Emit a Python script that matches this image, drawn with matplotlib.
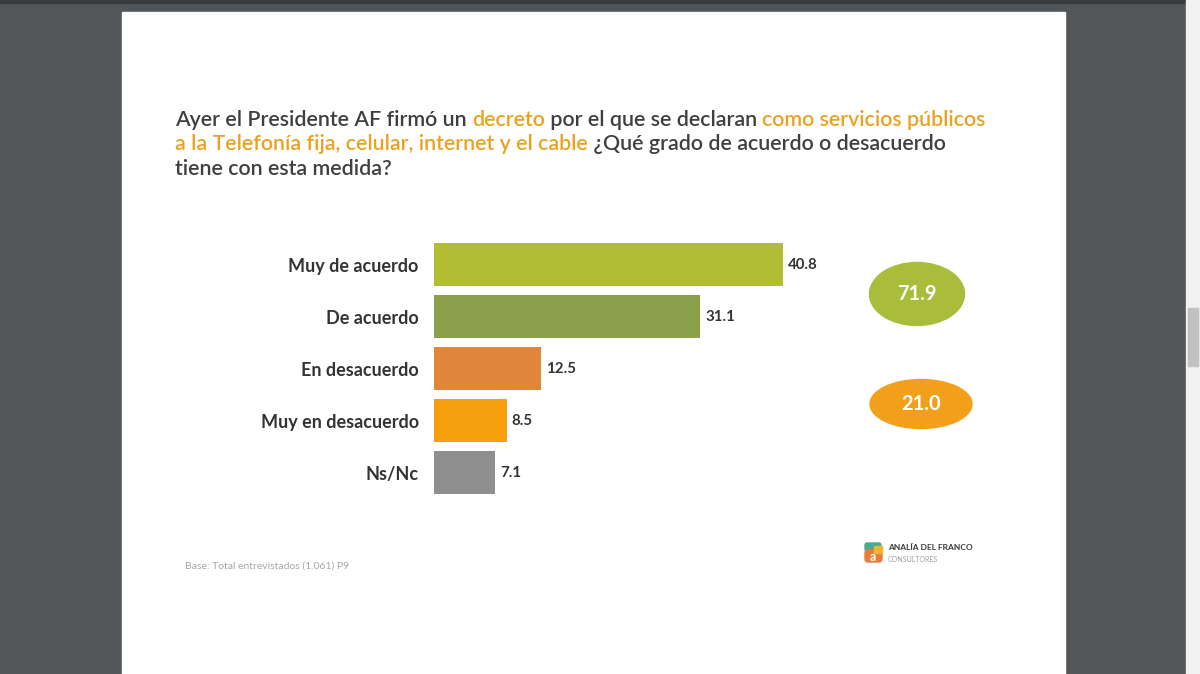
import matplotlib
matplotlib.use("Agg")
import matplotlib.pyplot as plt
from matplotlib.patches import Rectangle, Ellipse, FancyBboxPatch

plt.rcParams['font.family'] = ['Lato', 'DejaVu Sans']

categories = ["Muy de acuerdo", "De acuerdo", "En desacuerdo", "Muy en desacuerdo", "Ns/Nc"]
values = [40.8, 31.1, 12.5, 8.5, 7.1]
bar_colors = ["#b1bd33", "#8aa04b", "#e0863a", "#f5a00c", "#8f8f8f"]
totals = [71.9, 21.0]
total_colors = ["#a9bd3b", "#f2a01a"]

title_lines = [
    [("Ayer el Presidente AF firmó un ", "g"), ("decreto", "o"),
     (" por el que se declaran ", "g"), ("como servicios públicos", "o")],
    [("a la Telefonía fija, celular, internet y el cable", "o"),
     (" ¿Qué grado de acuerdo o desacuerdo", "g")],
    [("tiene con esta medida?", "g")],
]
base_note = "Base: Total entrevistados (1.061) P9"

W, H = 1200, 674
fig = plt.figure(figsize=(W / 100, H / 100), dpi=100)
fig.patch.set_facecolor("#525659")

# overlay axes in pixel coordinates
ov = fig.add_axes([0, 0, 1, 1])
ov.set_xlim(0, W)
ov.set_ylim(H, 0)
ov.axis("off")
ov.add_patch(Rectangle((0, 0), W, 3, color="#3a3d40", zorder=0))
ov.add_patch(Rectangle((122, 12), 943, 700, color="white", zorder=0))
ov.add_patch(Rectangle((1186, 0), 14, H, color="#f1f1f1", zorder=0))
ov.add_patch(Rectangle((1188, 308), 10, 58, color="#c1c1c1", zorder=1))

# title with coloured segments
text_colors = {"g": "#3f3f3f", "o": "#eba21f"}
renderer = fig.canvas.get_renderer()
y = 126
for line in title_lines:
    x = 175
    for seg, c in line:
        t = ov.text(x, y, seg, fontsize=15.4, color=text_colors[c],
                    fontweight="semibold", va="baseline", ha="left")
        bb = t.get_window_extent(renderer=renderer)
        x += bb.width
    y += 24.5

# bar chart
left_px, top_px = 434, 239
scale = 8.55
ax = fig.add_axes([left_px / W, 1 - 498.5 / H, 50 * scale / W, (498.5 - top_px) / H])
ax.barh(range(len(values)), values, height=0.83, color=bar_colors)
ax.set_xlim(0, 50)
ax.set_ylim(len(values) - 0.5, -0.5)
ax.set_yticks(range(len(values)))
ax.set_yticklabels(categories, fontsize=13, fontweight="bold", color="#333333")
ax.tick_params(axis="y", length=0, pad=11)
ax.set_xticks([])
for s in ax.spines.values():
    s.set_visible(False)
ax.patch.set_alpha(0)
for i, v in enumerate(values):
    ax.text(v + 0.6, i, f"{v:.1f}", va="center", ha="left",
            fontsize=10.8, fontweight="bold", color="#333333")

# summary ellipses
centers = [(917, 294), (921, 404)]
sizes = [(95, 63), (102, 49)]
for (cx, cy), (ew, eh), val, col in zip(centers, sizes, totals, total_colors):
    ov.add_patch(Ellipse((cx, cy), ew, eh, color=col, zorder=2))
    ov.text(cx, cy, f"{val:.1f}", ha="center", va="center", fontsize=14.5,
            fontweight="bold", color="white", zorder=3)

ov.text(185, 566, base_note, fontsize=7.5, color="#a6a6a6", va="center", ha="left")

# logo
ov.add_patch(FancyBboxPatch((865, 543), 16, 8, boxstyle="round,pad=0,rounding_size=2",
                            color="#4aa98f", zorder=2))
ov.add_patch(FancyBboxPatch((865, 550), 17, 12, boxstyle="round,pad=0,rounding_size=3",
                            color="#ea7b3b", zorder=2))
ov.add_patch(Rectangle((874, 546), 8, 7, color="#f2b531", zorder=3))
ov.text(873, 557, "a", fontsize=9, fontweight="bold", color="white",
        ha="center", va="center", zorder=4)
ov.text(888, 548, "ANALÍA DEL FRANCO", fontsize=6.0, fontweight="bold",
        color="#3a3a3a", va="center", ha="left")
ov.text(888, 559, "CONSULTORES", fontsize=5, color="#a0a0a0", va="center", ha="left")

fig.savefig("out.png", dpi=100)
